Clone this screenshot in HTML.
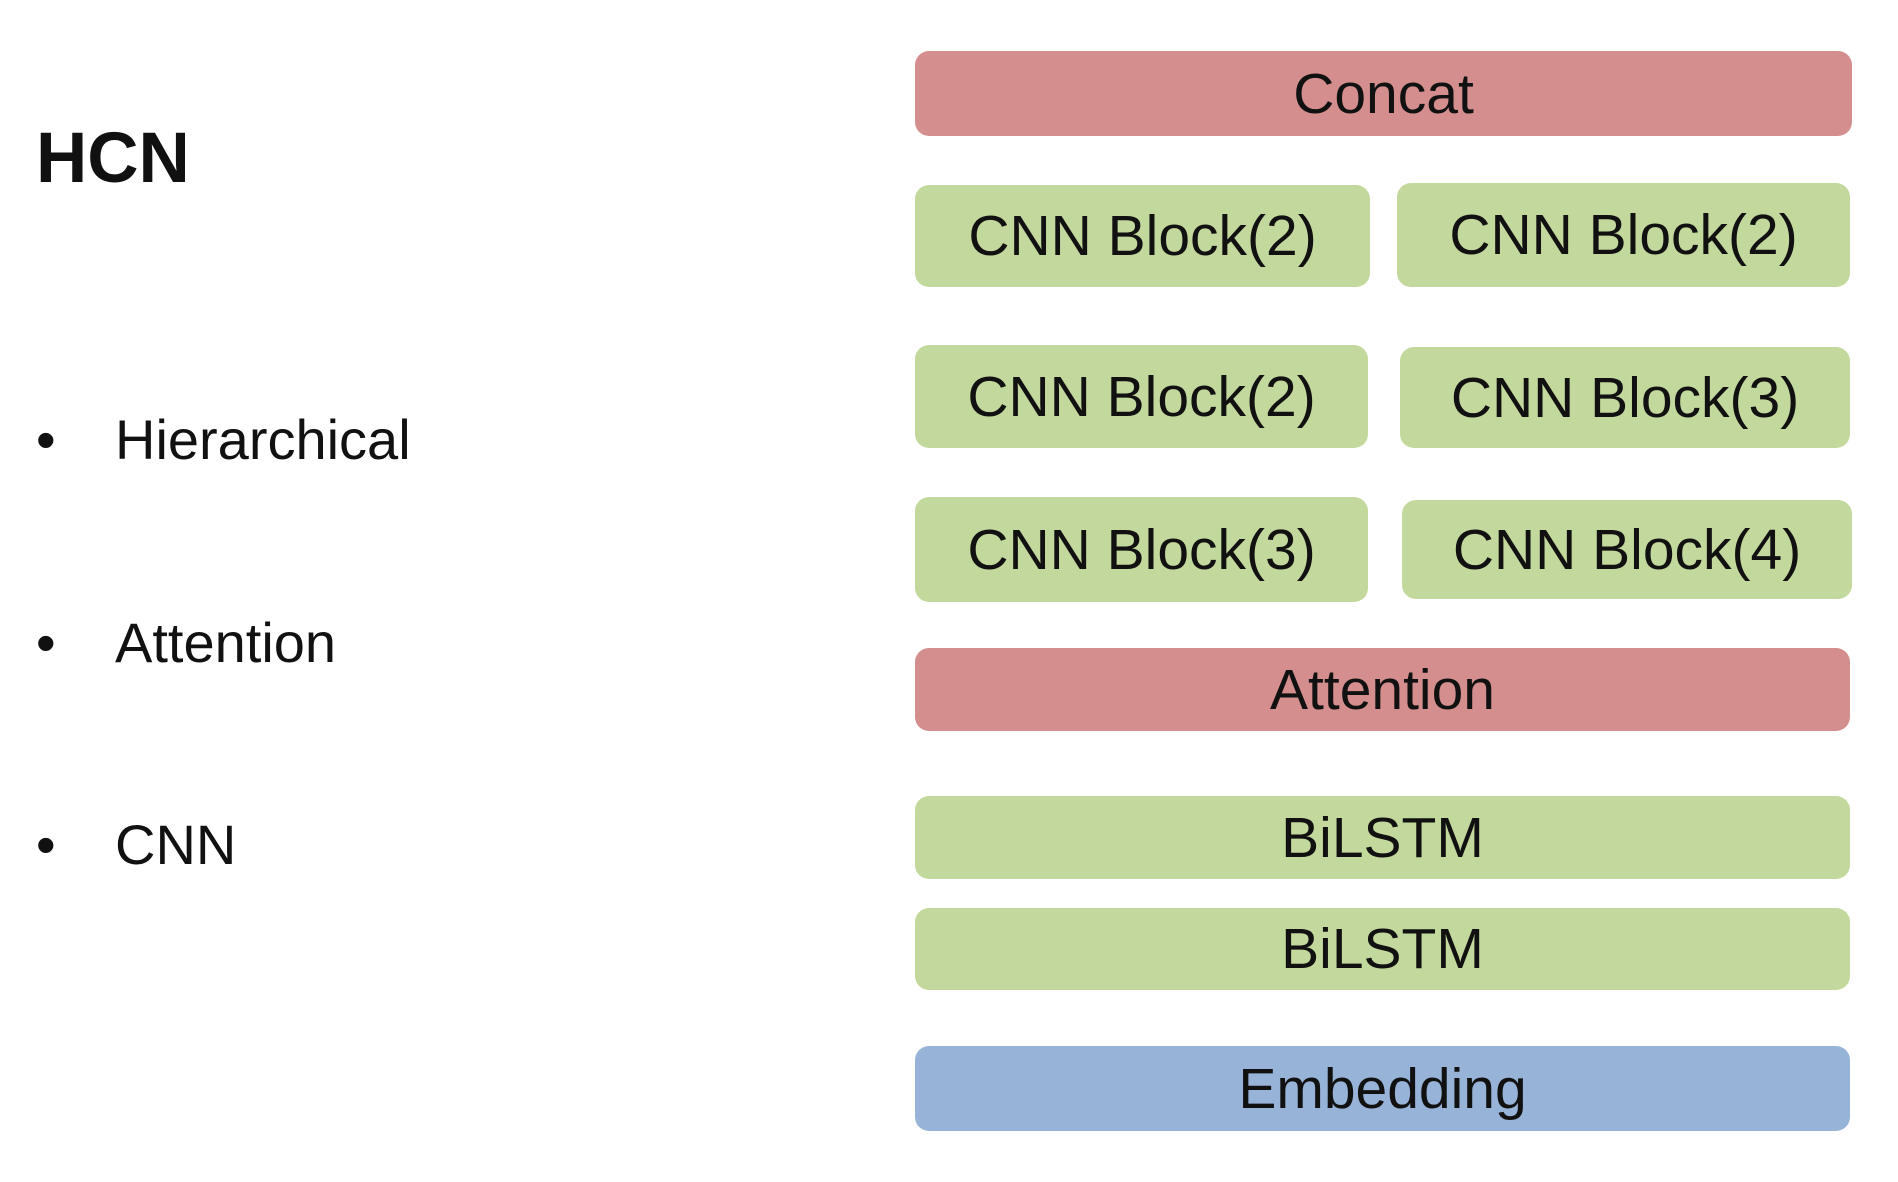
<!DOCTYPE html>
<html><head><meta charset="utf-8"><style>
body{margin:0;width:1898px;height:1182px;background:#fff;position:relative;overflow:hidden;font-family:"Liberation Sans",sans-serif;color:#111}
.b{position:absolute;border-radius:14px;display:flex;align-items:center;justify-content:center;font-size:57px}
.r{background:#d48e8e}.g{background:#c3d89c}.bl{background:#98b3d8}
.t{position:absolute;font-size:56px;line-height:1}
</style></head><body>
<div class="t" style="left:36px;top:123px;font-size:71px;font-weight:bold">HCN</div>
<div class="t" style="left:36px;top:412px"><span style="position:absolute;left:0">•</span><span style="position:absolute;left:79px;white-space:nowrap">Hierarchical</span></div>
<div class="t" style="left:36px;top:615px"><span style="position:absolute;left:0">•</span><span style="position:absolute;left:79px;white-space:nowrap">Attention</span></div>
<div class="t" style="left:36px;top:817px"><span style="position:absolute;left:0">•</span><span style="position:absolute;left:79px;white-space:nowrap">CNN</span></div>
<div class="b r" style="left:915px;top:51px;width:937px;height:85px">Concat</div>
<div class="b g" style="left:915px;top:185px;width:455px;height:102px">CNN Block(2)</div>
<div class="b g" style="left:1397px;top:183px;width:453px;height:104px">CNN Block(2)</div>
<div class="b g" style="left:915px;top:345px;width:453px;height:103px">CNN Block(2)</div>
<div class="b g" style="left:1400px;top:347px;width:450px;height:101px">CNN Block(3)</div>
<div class="b g" style="left:915px;top:497px;width:453px;height:105px">CNN Block(3)</div>
<div class="b g" style="left:1402px;top:500px;width:450px;height:99px">CNN Block(4)</div>
<div class="b r" style="left:915px;top:648px;width:935px;height:83px">Attention</div>
<div class="b g" style="left:915px;top:796px;width:935px;height:83px">BiLSTM</div>
<div class="b g" style="left:915px;top:908px;width:935px;height:82px">BiLSTM</div>
<div class="b bl" style="left:915px;top:1046px;width:935px;height:85px">Embedding</div>
</body></html>
